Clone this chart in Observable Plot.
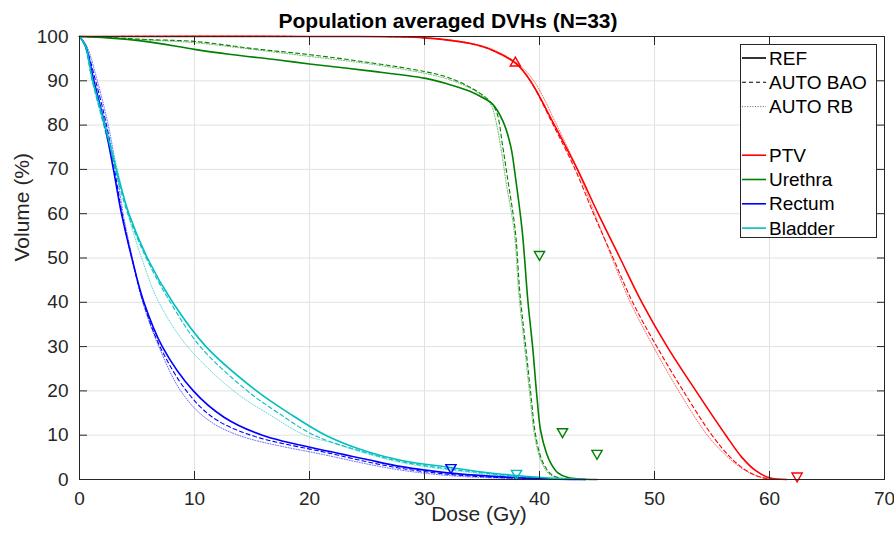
<!DOCTYPE html>
<html><head><meta charset="utf-8">
<script src="https://cdn.jsdelivr.net/npm/d3@7"></script>
<script src="https://cdn.jsdelivr.net/npm/@observablehq/plot@0.6"></script>
<style>
body{margin:0;background:#fff;font-family:"Liberation Sans",Arial,Helvetica,sans-serif}
#wrap{position:relative;width:894px;height:536px}
#legend{position:absolute;left:740px;top:44px;width:137px;height:194px;border:1px solid #262626;background:#fff;box-sizing:border-box}
</style>
</head><body><div id="wrap"><div id="chart"></div><div id="legend"></div></div>
<script>
// ---- data: [dose (Gy), volume (%)] ----
const ptvRef = [[0,100],[20,100],[30,99.7],[34,98.4],[36,96.8],[38,93.8],[39.2,90],[41.3,80],[43.3,70],[45.1,60],[47.0,50],[48.9,40],[51.1,30],[53.6,20],[56.2,10],[57.6,5],[58.8,2],[60,0.4],[61.5,0]];
const ptvBao = [[0,100],[20,100],[30,99.7],[34,98.4],[36,96.8],[38,93.8],[39.2,90],[41.2,80],[43.1,70],[44.7,60],[46.4,50],[48.1,40],[50.2,30],[52.5,20],[55.0,10],[56.6,5],[58.0,2],[59.4,0.4],[61,0]];
const ptvRb  = [[0,100],[20,100],[30,99.7],[34,98.5],[36,97],[38,94.1],[39.5,90],[41.5,80],[43.3,70],[44.8,60],[46.3,50],[47.9,40],[49.9,30],[52.1,20],[54.6,10],[56.4,5],[57.9,2],[59.4,0.4],[61,0]];

const urRef = [[0,100],[2.5,99.7],[5.7,98.9],[10,97.1],[13,96],[17.3,94.7],[20,93.8],[25,92.3],[30,90.6],[32,89.3],[34,87.6],[35.2,86],[35.9,84.8],[36.8,81],[37.5,75.2],[37.9,68.4],[38.5,56],[39,40],[39.4,30],[39.8,18],[40.1,11],[40.6,6],[41,3.6],[41.6,1.5],[42.4,0.5],[43.5,0.1],[45,0]];
const urBao = [[0,100],[3,99.7],[6,99.3],[10,98.9],[15,97.3],[20,95.9],[25,94.2],[30,92.1],[32,90.8],[34,88.5],[35.2,86.5],[35.8,85],[36.3,82.7],[36.8,75.2],[37.2,68.4],[37.9,56],[38.3,42],[38.8,30],[39.3,18],[39.6,11],[40,6],[40.4,3.3],[41,1.2],[41.8,0.3],[43,0]];
const urRb  = [[0,100],[3,99.6],[6,99.2],[10,98.6],[15,97.1],[20,95.5],[25,93.9],[30,91.7],[32,90.4],[34,88.3],[35.2,86.2],[35.8,84.5],[36.2,81],[36.7,74],[37.1,67],[37.8,56],[38.2,42],[38.7,30],[39.2,18],[39.5,11],[39.9,6],[40.3,3.2],[40.9,1.1],[41.7,0.3],[43,0]];

const reRef = [[0,100],[0.5,98],[1.25,90],[2.2,80],[2.95,70],[3.65,60],[4.55,50],[5.6,40],[7.2,30],[9.9,20],[12.6,14],[15.9,10],[21.8,6.3],[25,4.5],[28,2.9],[32,1.5],[36,0.7],[40,0.2],[44,0]];
const reBao = [[0,100],[0.5,98],[1.4,90],[2.35,80],[3.05,70],[3.7,60],[4.55,50],[5.55,40],[7.0,30],[9.3,20],[11.6,14],[14.9,10],[21.8,5.9],[25,4.0],[28,2.5],[32,1.2],[36,0.5],[40,0.15],[43,0]];
const reRb  = [[0,100],[0.6,98],[1.55,90],[2.5,80],[3.2,70],[3.8,60],[4.6,50],[5.5,40],[6.9,30],[8.8,20],[10.9,14],[13.8,10],[21.8,5.3],[25,3.5],[28,2.1],[32,0.9],[36,0.35],[40,0.1],[43,0]];

const blRef = [[0,100],[0.5,98],[1.15,90],[2.2,80],[3.2,70],[4.3,60],[5.9,50],[8.1,40],[11.0,30],[15.4,20],[18.2,15],[21.4,10],[25,6.3],[28,4.3],[32,2.8],[35,1.7],[38,0.9],[40.5,0.4],[44,0]];
const blBao = [[0,100],[0.45,98],[1.1,90],[2.1,80],[3.1,70],[4.2,60],[5.8,50],[7.9,40],[10.5,30],[14.6,20],[17.3,15],[20.4,10],[25,6.0],[28,4.0],[32,2.4],[35,1.5],[38,0.7],[40.5,0.3],[43.5,0]];
const blRb  = [[0,100],[0.55,98],[1.25,90],[2.3,80],[3.3,70],[4.2,60],[5.4,50],[6.9,40],[9.4,30],[13.4,20],[16.3,15],[19.6,10],[21.8,8.4],[25,5.8],[28,3.8],[32,2.2],[35,1.3],[38,0.6],[40.5,0.2],[43.5,0]];

// objective markers
const markDose = [37.9, 62.4, 40.0, 42.0, 45.0, 32.3, 38.0];
const markVol  = [94.0, 0.8, 50.8, 10.8, 5.9, 2.7, 1.4];
const markStruct = ["PTV","PTV","Urethra","Urethra","Urethra","Rectum","Bladder"];
const markUp = [true, false, false, false, false, false, false];

const structures = ["PTV","Urethra","Rectum","Bladder"];
const structColors = ["#ff0000","#008000","#0000ff","#00bfbf"];
const plans = ["REF","AUTO BAO","AUTO RB"];
const xTicks = [0,10,20,30,40,50,60,70];
const yTicks = [0,10,20,30,40,50,60,70,80,90,100];

const curves = [
  ["PTV","REF",ptvRef],["PTV","AUTO BAO",ptvBao],["PTV","AUTO RB",ptvRb],
  ["Urethra","REF",urRef],["Urethra","AUTO BAO",urBao],["Urethra","AUTO RB",urRb],
  ["Rectum","REF",reRef],["Rectum","AUTO BAO",reBao],["Rectum","AUTO RB",reRb],
  ["Bladder","REF",blRef],["Bladder","AUTO BAO",blBao],["Bladder","AUTO RB",blRb]
];
const colorOf = s => structColors[structures.indexOf(s)];
const planStyle = {
  "REF": {strokeWidth: 1.6, strokeDasharray: null, strokeOpacity: 1},
  "AUTO BAO": {strokeWidth: 1.1, strokeDasharray: "4,3", strokeOpacity: 1},
  "AUTO RB": {strokeWidth: 1, strokeDasharray: "1,1.6", strokeOpacity: 0.6}
};

const font = '"Liberation Sans", Arial, Helvetica, sans-serif';
const ink = "#262626";

const lineMarks = [];
for (const plan of ["AUTO RB","AUTO BAO","REF"]) {
  for (const [s, p, pts] of curves) {
    if (p !== plan) continue;
    const st = planStyle[p];
    const o = {x: d => d[0], y: d => d[1], stroke: colorOf(s), strokeWidth: st.strokeWidth, strokeOpacity: st.strokeOpacity, curve: "catmull-rom"};
    if (st.strokeDasharray) o.strokeDasharray = st.strokeDasharray;
    lineMarks.push(Plot.line(pts, o));
  }
}

const markers = markDose.map((d, i) => ({dose: d, vol: markVol[i], s: markStruct[i], up: markUp[i]}));

const chart = Plot.plot({
  width: 894, height: 536,
  marginLeft: 79, marginRight: 10, marginTop: 36, marginBottom: 57,
  style: {fontFamily: font, fontSize: "19px", color: ink, background: "#fff"},
  x: {domain: [0, 70]},
  y: {domain: [0, 100]},
  marks: [
    Plot.ruleX(xTicks.slice(1, -1), {x: d => d, stroke: "#e2e2e2", strokeWidth: 1}),
    Plot.ruleY(yTicks.slice(1, -1), {y: d => d, stroke: "#e2e2e2", strokeWidth: 1}),
    ...lineMarks,
    Plot.dot(markers, {x: "dose", y: "vol", symbol: "triangle", r: 3.8, fill: "none", strokeWidth: 1.4,
      stroke: d => colorOf(d.s), rotate: d => d.up ? 0 : 180}),
    Plot.frame({stroke: ink, strokeWidth: 1}),
    Plot.axisX({anchor: "bottom", ticks: xTicks, tickSize: -8, fill: "none", stroke: ink, label: null}),
    Plot.axisX({anchor: "top", ticks: xTicks, tickSize: -8, fill: "none", stroke: ink, label: null}),
    Plot.axisY({anchor: "left", ticks: yTicks, tickSize: -8, fill: "none", stroke: ink, label: null}),
    Plot.axisY({anchor: "right", ticks: yTicks, tickSize: -8, fill: "none", stroke: ink, label: null}),
    Plot.axisX({anchor: "bottom", ticks: xTicks, tickSize: 0, tickPadding: 11.5, fontSize: 19, fill: ink, label: null}),
    Plot.axisY({anchor: "left", ticks: yTicks, tickSize: 0, tickPadding: 11, fontSize: 19, fill: ink, label: null}),
    Plot.text(["Population averaged DVHs (N=33)"], {frameAnchor: "top", lineAnchor: "bottom", dy: -9, dx: -34, fontSize: 21, fontWeight: "bold", fill: "#000"}),
    Plot.text(["Dose (Gy)"], {frameAnchor: "bottom", lineAnchor: "bottom", dy: 41, dx: -3, fontSize: 21, fill: ink}),
    Plot.text(["Volume (%)"], {frameAnchor: "left", lineAnchor: "bottom", rotate: -90, dx: -51, dy: 3.5, fontSize: 21, fill: ink})
  ]
});
document.getElementById("chart").appendChild(chart);

// ---- legend ----
const legendItems = [
  ...plans.map(p => ({label: p, color: "#000", style: planStyle[p]})),
  null,
  ...structures.map(s => ({label: s, color: colorOf(s), style: planStyle["REF"]}))
];
const lg = d3.select("#legend").append("svg").attr("width", 135).attr("height", 192)
  .style("display", "block").style("overflow", "visible");
legendItems.forEach((it, i) => {
  if (!it) return;
  const cy = 13 + i * 24.3;
  const ln = lg.append("line").attr("x1", 1).attr("x2", 25).attr("y1", cy).attr("y2", cy)
    .attr("stroke", it.color).attr("stroke-width", it.style.strokeWidth).attr("stroke-opacity", it.style.strokeOpacity);
  if (it.style.strokeDasharray) ln.attr("stroke-dasharray", it.style.strokeDasharray);
  lg.append("text").attr("x", 28).attr("y", cy).attr("dy", "0.35em").attr("font-size", 19)
    .attr("font-family", font).attr("fill", "#000").text(it.label);
});
</script>
</body></html>
